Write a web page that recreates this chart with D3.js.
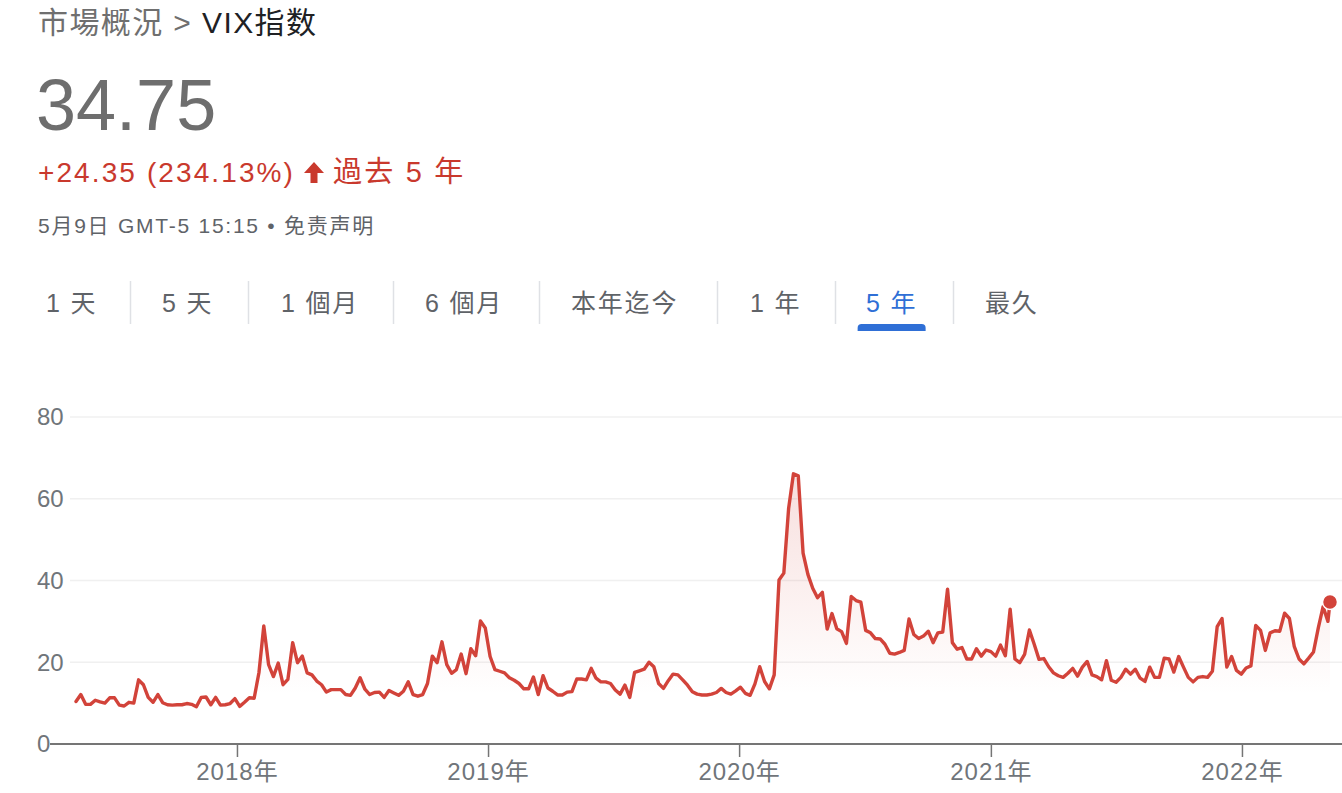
<!DOCTYPE html>
<html>
<head>
<meta charset="utf-8">
<script src="https://cdn.jsdelivr.net/npm/d3@7"></script>
<style>
  html, body { margin: 0; padding: 0; background: #fff; }
  svg { display: block; font-family: "Liberation Sans", Arial, "Noto Sans CJK SC", sans-serif; }
</style>
</head>
<body>
<svg id="chart" width="1342" height="793"></svg>
<script>
// VIX weekly closes (Fridays), grouped by calendar year
const vix2017 = [10.4, 12.1, 9.7, 9.7, 10.7, 10.3, 10.0, 11.3, 11.3, 9.5, 9.3, 10.2, 10.0, 15.7, 14.5, 11.4, 10.2,
  12.1, 10.1, 9.6, 9.5, 9.6, 9.6, 9.9, 9.7, 9.1, 11.4, 11.5, 9.6, 11.4, 9.5, 9.6, 9.9, 11.1];
const vix2018 = [9.2, 10.2, 11.3, 11.2, 17.5, 28.9, 19.4, 16.5, 19.8, 14.5, 15.8, 24.8, 19.9, 21.5, 17.4, 16.9,
  15.4, 14.5, 12.7, 13.3, 13.3, 13.3, 12.1, 11.9, 13.7, 16.2, 13.4, 12.1, 12.6, 12.7, 11.4, 13.1, 12.5, 11.9,
  12.9, 15.2, 12.1, 11.7, 12.1, 14.8, 21.5, 19.9, 25.0, 19.4, 17.3, 18.2, 22.0, 17.2, 23.3, 21.6, 30.1, 28.4];
const vix2019 = [21.4, 18.2, 17.8, 17.4, 16.2, 15.6, 14.8, 13.5, 13.5, 16.4, 12.1, 16.7, 13.7, 12.9, 12.0, 12.0,
  12.7, 12.8, 15.9, 15.9, 15.7, 18.5, 16.1, 15.2, 15.2, 14.8, 13.2, 12.2, 14.4, 11.4, 17.5, 17.9, 18.3, 20.0,
  18.9, 14.8, 13.6, 15.5, 17.1, 16.9, 15.7, 14.4, 12.8, 12.2, 12.0, 12.0, 12.2, 12.6, 13.6, 12.6, 12.2, 13.0];
const vix2020 = [13.9, 12.4, 11.9, 14.7, 18.9, 15.3, 13.5, 16.9, 40.1, 41.8, 57.7, 66.1, 65.6, 46.7, 41.5, 38.1,
  35.8, 37.1, 28.1, 31.9, 28.2, 27.5, 24.6, 36.1, 35.1, 34.7, 27.8, 27.2, 25.8, 25.7, 24.4, 22.2, 22.0, 22.4,
  22.9, 30.6, 26.8, 25.8, 26.4, 27.6, 24.8, 27.2, 27.4, 37.9, 24.8, 23.2, 23.6, 20.8, 20.8, 23.3, 21.5, 23.0];
const vix2021 = [22.6, 21.5, 24.2, 21.6, 33.0, 20.8, 19.9, 21.9, 27.9, 24.4, 20.7, 20.9, 18.9, 17.4, 16.7, 16.3,
  17.3, 18.5, 16.6, 18.8, 20.2, 16.9, 16.5, 15.7, 20.4, 15.6, 15.1, 16.3, 18.3, 17.1, 18.3, 16.1, 15.3, 18.8,
  16.3, 16.3, 21.0, 20.8, 17.6, 21.4, 18.8, 16.3, 15.2, 16.3, 16.5, 16.3, 17.8, 28.7, 30.7, 18.8, 21.4, 18.0, 17.1];
const vix2022 = [18.6, 19.1, 29.0, 27.8, 22.9, 27.2, 27.7, 27.6, 32.0, 30.7, 23.9, 20.8, 19.6, 21.0, 22.5, 28.4,
  33.6, 30.0];

const firstWeek = "2017-05-12";
const lastQuoteDate = "2022-05-09";
const lastQuote = 34.75;

const yTicks = [0, 20, 40, 60, 80];
const xTickDates = ["2018-01-01", "2019-01-01", "2020-01-01", "2021-01-01", "2022-01-01"];
const tabLabels = ["1 天", "5 天", "1 個月", "6 個月", "本年迄今", "1 年", "5 年", "最久"];
const activeTab = "5 年";

// tab bar layout (text start and divider x positions)
const tabStartX = [46, 162, 281, 425, 571, 750, 866, 985];
const tabDividerX = [130, 248, 393, 539, 717, 835, 953];

const RED = "#d2433a";
const parse = d3.utcParse("%Y-%m-%d");

const weekly = [...vix2017, ...vix2018, ...vix2019, ...vix2020, ...vix2021, ...vix2022];
const start = parse(firstWeek);
const series = weekly.map((v, i) => ({ date: d3.utcDay.offset(start, 7 * i), value: v }));
series.push({ date: parse(lastQuoteDate), value: lastQuote });

const svg = d3.select("#chart");

// ---------- header ----------
const header = svg.append("g");
const title = header.append("text")
  .attr("x", 38).attr("y", 33)
  .attr("font-size", 30).attr("letter-spacing", 1.4);
title.append("tspan").attr("fill", "#6f6f6f").text("市場概況 > ");
title.append("tspan").attr("fill", "#202124").text("VIX指数");

header.append("text")
  .attr("x", 36).attr("y", 130)
  .attr("font-size", 72).attr("fill", "#6e6e6e")
  .text(lastQuote.toFixed(2));

const base = weekly[0];
const change = lastQuote - base;
const pct = change / base * 100;
header.append("text")
  .attr("x", 38).attr("y", 182)
  .attr("font-size", 28).attr("letter-spacing", 2.1).attr("fill", "#c9392d")
  .text(`+${change.toFixed(2)} (${pct.toFixed(2)}%)`);
// up arrow icon
header.append("path")
  .attr("d", "M314,162 L304,173 L310.5,173 L310.5,183 L317.5,183 L317.5,173 L324,173 Z")
  .attr("fill", "#c9392d");
header.append("text")
  .attr("x", 333).attr("y", 182)
  .attr("font-size", 29).attr("letter-spacing", 2.2).attr("fill", "#c9392d")
  .text("過去 5 年");

header.append("text")
  .attr("x", 38).attr("y", 233)
  .attr("font-size", 21).attr("letter-spacing", 1.75).attr("fill", "#5f6368")
  .text("5月9日 GMT-5 15:15 • 免责声明");

// ---------- range tabs ----------
const tabs = svg.append("g").attr("font-size", 25).attr("letter-spacing", 1.8);
tabLabels.forEach((lab, i) => {
  const active = lab === activeTab;
  const t = tabs.append("text")
    .attr("x", tabStartX[i]).attr("y", 312)
    .attr("fill", active ? "#2f6fd6" : "#5f6368")
    .text(lab);
  if (active) {
    const w = t.node().getComputedTextLength();
    const cx = tabStartX[i] + w / 2;
    tabs.append("path")
      .attr("d", `M${cx - 34},331 L${cx - 34},328 Q${cx - 34},324 ${cx - 30},324 L${cx + 30},324 Q${cx + 34},324 ${cx + 34},328 L${cx + 34},331 Z`)
      .attr("fill", "#2f6fd6");
  }
});
tabs.selectAll(".divider")
  .data(tabDividerX)
  .join("line")
  .attr("x1", d => d + 0.5).attr("x2", d => d + 0.5)
  .attr("y1", 281).attr("y2", 324)
  .attr("stroke", "#dfe1e5").attr("stroke-width", 1.5);

// ---------- chart ----------
const x = d3.scaleUtc()
  .domain([start, parse(lastQuoteDate)])
  .range([76, 1330]);
const y = d3.scaleLinear().domain([0, 80]).range([744, 417]);

const plot = svg.append("g");

// gridlines
plot.selectAll(".grid")
  .data(yTicks.filter(d => d > 0))
  .join("line")
  .attr("x1", 70).attr("x2", 1342)
  .attr("y1", d => y(d)).attr("y2", d => y(d))
  .attr("stroke", "#f0f0f0").attr("stroke-width", 1.5);

// y labels
plot.selectAll(".ylab")
  .data(yTicks)
  .join("text")
  .attr("x", 37).attr("y", d => y(d))
  .attr("dy", "0.35em")
  .attr("font-size", 24).attr("fill", "#70757a")
  .text(d => d);

// area gradient
const defs = svg.append("defs");
const grad = defs.append("linearGradient")
  .attr("id", "areaFill")
  .attr("gradientUnits", "userSpaceOnUse")
  .attr("x1", 0).attr("x2", 0)
  .attr("y1", y(d3.max(series, d => d.value))).attr("y2", y(12));
grad.append("stop").attr("offset", 0).attr("stop-color", RED).attr("stop-opacity", 0.17);
grad.append("stop").attr("offset", 1).attr("stop-color", RED).attr("stop-opacity", 0);

const area = d3.area()
  .x(d => x(d.date)).y0(y(0)).y1(d => y(d.value));
plot.append("path")
  .datum(series)
  .attr("d", area)
  .attr("fill", "url(#areaFill)");

// x axis
const xAxis = d3.axisBottom(x)
  .tickValues(xTickDates.map(parse))
  .tickFormat(d => d3.utcFormat("%Y")(d) + "年")
  .tickSize(13)
  .tickPadding(6);
const gx = plot.append("g")
  .attr("transform", `translate(0,${y(0)})`)
  .call(xAxis);
gx.select(".domain").remove();
gx.selectAll(".tick line").attr("stroke", "#757575").attr("stroke-width", 1.5);
gx.selectAll(".tick text")
  .attr("font-size", 24).attr("letter-spacing", 1)
  .attr("fill", "#70757a")
  .attr("font-family", "\"Liberation Sans\", Arial, \"Noto Sans CJK SC\", sans-serif");
plot.append("line")
  .attr("x1", 50).attr("x2", 1342)
  .attr("y1", y(0)).attr("y2", y(0))
  .attr("stroke", "#757575").attr("stroke-width", 2);

// price line
const line = d3.line().x(d => x(d.date)).y(d => y(d.value));
plot.append("path")
  .datum(series)
  .attr("d", line)
  .attr("fill", "none")
  .attr("stroke", RED)
  .attr("stroke-width", 3.4)
  .attr("stroke-linejoin", "round")
  .attr("stroke-linecap", "round");

// latest quote marker
const last = series[series.length - 1];
plot.append("circle")
  .attr("cx", x(last.date)).attr("cy", y(last.value))
  .attr("r", 7.5)
  .attr("fill", RED)
  .attr("stroke", "#fff").attr("stroke-width", 1.5);
</script>
</body>
</html>
